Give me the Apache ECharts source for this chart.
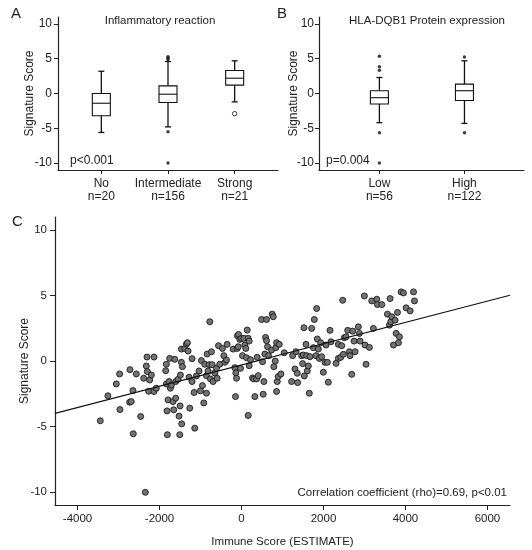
<!DOCTYPE html>
<html>
<head>
<meta charset="utf-8">
<script src="https://cdn.jsdelivr.net/npm/echarts@6/dist/echarts.min.js"></script>
<style>
html,body{margin:0;padding:0;background:#fff;}
#chart{width:532px;height:550px;}
</style>
</head>
<body>
<div id="chart"></div>
<script>
// ---- Panel A: Inflammatory reaction ----
var inflamCategories = ['No', 'Intermediate', 'Strong'];
var inflamCounts = [20, 156, 21];
// [min whisker, Q1, median, Q3, max whisker]
var inflamBoxes = [
  [-5.6, -3.2, -1.4, 0.0, 3.2],
  [-4.8, -1.3, -0.1, 1.1, 4.6],
  [-1.2, 1.2, 2.2, 3.3, 4.7]
];
var inflamOutlierGroup = [2, 2, 2, 2, 2];
var inflamOutlierValue = [4.9, 5.1, 5.3, -5.5, -10.0];
var inflamOpenOutlierGroup = [3];
var inflamOpenOutlierValue = [-2.9];

// ---- Panel B: HLA-DQB1 protein expression ----
var hlaCategories = ['Low', 'High'];
var hlaCounts = [56, 122];
var hlaBoxes = [
  [-4.2, -1.5, -0.6, 0.4, 2.3],
  [-4.3, -1.0, 0.4, 1.35, 4.7]
];
var hlaOutlierGroup = [1, 1, 1, 1, 1, 2, 2];
var hlaOutlierValue = [5.35, 3.85, 3.35, -5.65, -10.0, 5.25, -5.65];

// ---- Panel C: scatter ----
var immuneScore = [-3446,-3259,-3055,-2974,-2966,-2729,-2721,-2690,-2648,-2640,-2566,-2460,-2387,-2322,-2306,-2298,-2265,-2346,-2241,-2200,-2135,-2135,-2078,-1849,-1833,-1833,-1817,-1809,-1792,-1768,-1752,-1736,-1711,-1670,-1654,-1630,-1605,-1605,-1548,-1524,-1507,-1499,-1491,-1467,-1467,-1458,-1442,-1385,-1344,-1320,-1304,-1279,-1263,-1206,-1206,-1157,-1141,-1100,-1035,-1002,-978,-953,-921,-896,-855,-855,-839,-815,-790,-774,-758,-733,-717,-693,-652,-611,-595,-562,-530,-464,-432,-407,-367,-350,-204,-163,-147,-139,-122,-106,-98,-81,-73,-41,-24,0,24,57,81,106,122,139,163,163,187,187,220,269,301,326,367,383,407,489,513,530,546,570,587,611,611,635,660,733,750,774,790,823,839,855,855,872,896,921,961,1043,1222,1247,1304,1328,1361,1369,1467,1491,1508,1524,1532,1573,1589,1605,1630,1654,1670,1711,1752,1776,1817,1833,1849,1874,1898,1931,1955,1996,2037,2061,2094,2118,2159,2183,2306,2363,2363,2420,2444,2469,2485,2509,2550,2591,2632,2648,2689,2713,2746,2770,2851,2876,2892,2998,3014,3039,3120,3218,3177,3300,3316,3422,3560,3609,3625,3642,3666,3707,3747,3772,3805,3853,3829,3894,3951,4016,4114,4196,4220];
var signatureScore = [-4.57,-2.66,-1.75,-0.99,-3.71,-3.15,-0.66,-3.1,-2.26,-5.56,-0.99,-4.24,-1.32,-0.38,0.30,-0.81,-2.31,-10.03,-1.45,-1.07,0.30,-2.33,-2.08,-0.74,-0.25,-1.75,-3.81,-5.63,-2.97,-1.57,0.20,-2.08,-1.83,-3.10,-3.73,0.13,-2.84,-1.57,-1.40,-4.21,-5.63,-3.43,-1.07,-0.10,0.91,-4.80,-0.43,0.96,1.29,1.40,0.76,-1.24,-3.60,0.18,-1.57,-2.41,-5.13,-1.14,-0.76,-2.28,0.03,-1.88,-3.20,-0.25,-1.12,-2.46,0.53,-0.76,-0.28,3.0,-1.37,0.71,-0.28,-1.57,-0.91,-0.56,-1.32,1.17,-0.25,0.96,0.41,-0.10,0.08,1.27,0.91,-0.51,-2.72,-0.91,-1.32,0.96,1.93,1.09,2.03,1.65,-0.56,1.73,0.41,1.73,1.22,0.96,0.25,2.36,1.73,-4.16,1.52,-0.36,0.10,-1.29,-1.37,-2.72,-1.37,0.28,-1.12,3.17,-0.05,-2.54,-1.57,0.53,1.80,3.17,1.55,1.09,0.41,0.84,3.58,3.38,-0.43,0.0,1.02,1.40,-2.33,-1.57,-1.19,1.27,-0.99,0.63,-1.57,0.41,-0.61,0.71,-0.94,-1.65,0.41,-0.20,0.46,2.54,-1.14,1.27,0.41,-0.76,-0.38,-2.46,0.33,2.49,1.02,3.17,0.41,4.01,1.68,0.91,0.20,1.40,0.33,-0.86,-0.10,1.22,-0.10,-1.62,2.34,1.47,-0.18,0.20,1.27,0.28,1.17,4.64,0.51,1.78,1.85,2.34,0.71,0.41,-1.02,2.28,1.52,0.71,2.61,2.11,1.52,4.97,1.22,-0.25,1.04,2.49,4.59,4.72,4.31,4.31,3.58,2.74,4.77,3.0,3.38,1.22,3.12,2.11,3.71,1.85,1.40,5.28,5.20,4.06,3.83,5.28,4.59];
var fitSlope = 0.000813;
var fitIntercept = -0.3;
var scatterXTicks = [-4000, -2000, 0, 2000, 4000, 6000];
var scoreTicks = [-10, -5, 0, 5, 10];

var X_MIN = -4550, X_MAX = 6550;

function zip(a, b) { return a.map(function (v, i) { return [v, b[i]]; }); }
function boxData(boxes) { return boxes.map(function (b, i) { return [i + 1].concat(b); }); }
function plain(v) { return String(v); }

var TXT = '#222';
var FONT = 'Liberation Sans, Arial, sans-serif';
var AX = '#222';

function renderBox(params, api) {
  var x = api.value(0);
  var lo = api.coord([x, api.value(1)]);
  var q1 = api.coord([x, api.value(2)]);
  var med = api.coord([x, api.value(3)]);
  var q3 = api.coord([x, api.value(4)]);
  var hi = api.coord([x, api.value(5)]);
  var hw = 9, cw = 3;
  var cx = med[0];
  var ls = { stroke: '#111', lineWidth: 1.3, fill: null };
  return {
    type: 'group',
    children: [
      { type: 'line', shape: { x1: cx, y1: q3[1], x2: cx, y2: hi[1] }, style: ls },
      { type: 'line', shape: { x1: cx - cw, y1: hi[1], x2: cx + cw, y2: hi[1] }, style: ls },
      { type: 'line', shape: { x1: cx, y1: q1[1], x2: cx, y2: lo[1] }, style: ls },
      { type: 'line', shape: { x1: cx - cw, y1: lo[1], x2: cx + cw, y2: lo[1] }, style: ls },
      { type: 'rect', shape: { x: cx - hw, y: q3[1], width: hw * 2, height: q1[1] - q3[1] }, style: { stroke: '#111', lineWidth: 1.1, fill: '#fff' } },
      { type: 'line', shape: { x1: cx - hw, y1: med[1], x2: cx + hw, y2: med[1] }, style: { stroke: '#111', lineWidth: 1.1 } }
    ]
  };
}

function yAxisCfg(gridIndex, nameGap, labelMargin, fontSize, tickLen) {
  return {
    type: 'value', gridIndex: gridIndex, min: -11, max: 11,
    name: 'Signature Score', nameLocation: 'middle', nameGap: nameGap, nameMoveOverlap: false,
    nameTextStyle: { color: TXT, fontSize: 12, fontFamily: FONT },
    axisLine: { show: true, onZero: false, lineStyle: { color: AX, width: 1.2 } },
    axisTick: { show: true, length: tickLen, lineStyle: { color: AX }, customValues: scoreTicks },
    axisLabel: { color: TXT, fontSize: fontSize, fontFamily: FONT, margin: labelMargin, customValues: scoreTicks, formatter: plain },
    splitLine: { show: false }
  };
}

function catAxisCfg(gridIndex, min, max, cats, counts) {
  var vals = cats.map(function (c, i) { return i + 1; });
  return {
    type: 'value', gridIndex: gridIndex, min: min, max: max,
    axisLine: { show: true, onZero: false, lineStyle: { color: AX, width: 1.2 } },
    axisTick: { show: true, length: 4, lineStyle: { color: AX }, customValues: vals },
    axisLabel: {
      color: TXT, fontSize: 12, fontFamily: FONT, margin: 7, lineHeight: 13,
      customValues: vals,
      formatter: function (v) { var i = Math.round(v) - 1; return cats[i] + '\nn=' + counts[i]; }
    },
    splitLine: { show: false }
  };
}

var option = {
  animation: false,
  backgroundColor: '#fff',
  textStyle: { fontFamily: FONT },
  grid: [
    { left: 58, top: 17, width: 220, height: 153, containLabel: false, outerBoundsMode: 'none' },
    { left: 319, top: 17, width: 205, height: 153, containLabel: false, outerBoundsMode: 'none' },
    { left: 55, top: 217, width: 455, height: 288, containLabel: false, outerBoundsMode: 'none' }
  ],
  xAxis: [
    catAxisCfg(0, 0.35, 3.65, inflamCategories, inflamCounts),
    catAxisCfg(1, 0.29, 2.70, hlaCategories, hlaCounts),
    {
      type: 'value', gridIndex: 2, min: X_MIN, max: X_MAX,
      name: 'Immune Score (ESTIMATE)', nameLocation: 'middle', nameGap: 31, nameMoveOverlap: false,
      nameTextStyle: { color: TXT, fontSize: 11.5, fontFamily: FONT },
      axisLine: { show: true, onZero: false, lineStyle: { color: AX, width: 1.2 } },
      axisTick: { show: true, length: 5, lineStyle: { color: AX }, customValues: scatterXTicks },
      axisLabel: { color: TXT, fontSize: 11.5, fontFamily: FONT, margin: 8, customValues: scatterXTicks, formatter: plain },
      splitLine: { show: false }
    }
  ],
  yAxis: [
    yAxisCfg(0, 22, 6, 12, 4),
    yAxisCfg(1, 19, 5, 12, 4),
    yAxisCfg(2, 24, 8, 11.5, 5)
  ],
  graphic: [
    { type: 'text', left: 11, top: 6, style: { text: 'A', fontSize: 15, fill: TXT, fontFamily: FONT } },
    { type: 'text', left: 277, top: 6, style: { text: 'B', fontSize: 15, fill: TXT, fontFamily: FONT } },
    { type: 'text', left: 12, top: 214, style: { text: 'C', fontSize: 15, fill: TXT, fontFamily: FONT } },
    { type: 'text', x: 160, y: 21, style: { text: 'Inflammatory reaction', fontSize: 11.5, fill: TXT, fontFamily: FONT, align: 'center', verticalAlign: 'middle' } },
    { type: 'text', x: 427, y: 21, style: { text: 'HLA-DQB1 Protein expression', fontSize: 11.5, fill: TXT, fontFamily: FONT, align: 'center', verticalAlign: 'middle' } },
    { type: 'text', x: 70, y: 161, style: { text: 'p<0.001', fontSize: 12, fill: TXT, fontFamily: FONT, align: 'left', verticalAlign: 'middle' } },
    { type: 'text', x: 326, y: 161, style: { text: 'p=0.004', fontSize: 12, fill: TXT, fontFamily: FONT, align: 'left', verticalAlign: 'middle' } },
    { type: 'text', x: 507, y: 493, style: { text: 'Correlation coefficient (rho)=0.69, p<0.01', fontSize: 11.5, fill: TXT, fontFamily: FONT, align: 'right', verticalAlign: 'middle' } }
  ],
  series: [
    { type: 'custom', xAxisIndex: 0, yAxisIndex: 0, renderItem: renderBox, data: boxData(inflamBoxes), z: 3 },
    { type: 'scatter', xAxisIndex: 0, yAxisIndex: 0, data: zip(inflamOutlierGroup, inflamOutlierValue), symbolSize: 3.5, itemStyle: { color: '#111' }, z: 4 },
    { type: 'scatter', xAxisIndex: 0, yAxisIndex: 0, data: zip(inflamOpenOutlierGroup, inflamOpenOutlierValue), symbolSize: 4.5, itemStyle: { color: '#fff', borderColor: '#111', borderWidth: 1 }, z: 4 },
    { type: 'custom', xAxisIndex: 1, yAxisIndex: 1, renderItem: renderBox, data: boxData(hlaBoxes), z: 3 },
    { type: 'scatter', xAxisIndex: 1, yAxisIndex: 1, data: zip(hlaOutlierGroup, hlaOutlierValue), symbolSize: 3.5, itemStyle: { color: '#111' }, z: 4 },
    {
      type: 'scatter', xAxisIndex: 2, yAxisIndex: 2, data: zip(immuneScore, signatureScore),
      symbolSize: 6, itemStyle: { color: '#737373', borderColor: '#1a1a1a', borderWidth: 0.9, opacity: 1 }, z: 3
    },
    {
      type: 'line', xAxisIndex: 2, yAxisIndex: 2, symbol: 'none', z: 4,
      lineStyle: { color: '#111', width: 1.1 },
      data: [[X_MIN, fitIntercept + fitSlope * X_MIN], [X_MAX, fitIntercept + fitSlope * X_MAX]]
    }
  ]
};

var chart = echarts.init(document.getElementById('chart'), null, { renderer: 'canvas' });
chart.setOption(option);
</script>
</body>
</html>
